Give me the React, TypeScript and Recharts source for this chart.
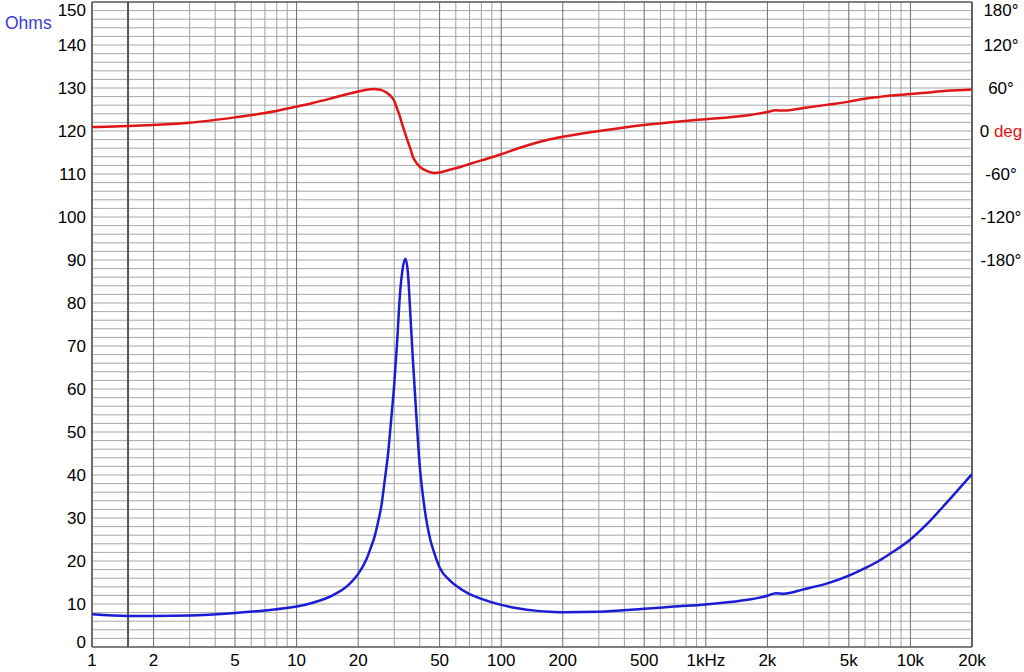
import React from "react";
import { LineChart, Line, XAxis, YAxis, CartesianGrid } from "recharts";

// Frequency (Hz), impedance (Ohms), phase (degrees)
const FREQ = [1, 1.5, 2, 3, 5, 7, 10, 12, 15, 18, 20, 22, 23, 24, 25, 26, 27, 28, 29, 30, 31, 32, 33, 34, 35, 36, 37, 38, 40, 42, 45, 47, 50, 56, 60, 70, 80, 100, 120, 150, 173, 200, 300, 500, 700, 1000, 1500, 2000, 2200, 2400, 3000, 4000, 5000, 6000, 7000, 8000, 10000, 12000, 15000, 20000];
const OHMS = [7.6, 7.2, 7.2, 7.3, 7.9, 8.5, 9.4, 10.3, 12.0, 14.5, 17.0, 20.5, 23, 25.5, 29, 33, 39, 45, 53, 61, 71, 82, 88, 90.3, 87, 77, 67, 58, 42, 33, 25, 22, 18.5, 15.5, 14.3, 12.3, 11.2, 9.8, 9.0, 8.4, 8.2, 8.1, 8.2, 8.9, 9.4, 9.9, 10.8, 11.9, 12.5, 12.4, 13.4, 14.9, 16.6, 18.35, 20.0, 21.75, 25.0, 28.5, 33.5, 40.2];
const PHASE = [5.5, 7, 8.5, 11.5, 19, 25, 34, 39, 46, 52, 55, 57.5, 58.2, 58.5, 58, 57, 55, 52, 48, 42, 31, 20, 7, -4, -15, -25, -36, -42, -50, -54, -57.5, -58.5, -58, -54, -52, -46, -41, -32.5, -24.5, -16, -11.5, -8, 0, 8.5, 12.5, 16.5, 21, 26.5, 29, 28.5, 32, 37, 41, 45, 47.5, 49.5, 51.5, 53.5, 56, 58];

const X_TICKS = [1, 2, 5, 10, 20, 50, 100, 200, 500, 1000, 2000, 5000, 10000, 20000];
const X_LABELS = ["1", "2", "5", "10", "20", "50", "100", "200", "500", "1kHz", "2k", "5k", "10k", "20k"];
const OHM_TICKS = [0, 10, 20, 30, 40, 50, 60, 70, 80, 90, 100, 110, 120, 130, 140, 150];
const DEG_TICKS = [-180, -120, -60, 0, 60, 120, 180];
const DEG_LABELS = ["-180°", "-120°", "-60°", "0 deg", "60°", "120°", "180°"];

const DECADES = [1, 10, 100, 1000, 10000];
const GRID_MAJOR = DECADES.flatMap((d) => [1, 2, 5].map((m) => m * d)).concat([20000]);
const GRID_MINOR = DECADES.flatMap((d) => [3, 4, 6, 7, 8, 9].map((m) => m * d)).filter((v) => v < 20000);
const GRID_H = Array.from({ length: 74 }, (_, i) => (i + 1) * 2);
const MARK_LINE = [1.5];

const data = FREQ.map((f, i) => ({ f, ohm: OHMS[i], deg: PHASE[i] }));

const FONT = "'Liberation Sans', Arial, sans-serif";

const XTick = (props: any) => {
  const { x, y, payload } = props;
  const idx = X_TICKS.indexOf(payload.value);
  return (
    <text x={x} y={y + 7} dy="0.36em" textAnchor="middle" fontSize={17} fontFamily={FONT} fill="#000">
      {idx >= 0 ? X_LABELS[idx] : payload.value}
    </text>
  );
};

const LeftTick = (props: any) => {
  const { x, y, payload } = props;
  const v = payload.value;
  const shift = v === 0 ? -5 : v === 150 ? 8 : 0;
  return (
    <text x={x} y={y + shift} dy="0.36em" textAnchor="end" fontSize={17} fontFamily={FONT} fill="#000">
      {v}
    </text>
  );
};

const RightTick = (props: any) => {
  const { x, y, payload } = props;
  const v = payload.value;
  const idx = DEG_TICKS.indexOf(v);
  const shift = v === 180 ? 8 : 0;
  const label = DEG_LABELS[idx];
  return (
    <text x={x + 23} y={y + shift} dy="0.36em" textAnchor="middle" fontSize={17} fontFamily={FONT} fill="#000">
      {v === 0 ? (
        <>
          <tspan>0 </tspan>
          <tspan fill="#e01515">deg</tspan>
        </>
      ) : (
        label
      )}
    </text>
  );
};

export default function App() {
  return (
    <div style={{ position: "absolute", left: 0, top: 0, width: 1024, height: 672, background: "#fff" }}>
      <div
        style={{
          position: "absolute",
          left: 5,
          top: 13,
          fontFamily: FONT,
          fontSize: 17.5,
          lineHeight: "20px",
          color: "#3b3bd6",
        }}
      >
        Ohms
      </div>
      <LineChart width={1024} height={672} data={data} margin={{ top: 2, right: 0, bottom: 0, left: 0 }}>
        <XAxis
          dataKey="f"
          type="number"
          scale="log"
          domain={[1, 20000]}
          allowDataOverflow
          ticks={X_TICKS}
          interval={0}
          height={25}
          axisLine={false}
          tickLine={false}
          tickSize={6}
          tickMargin={0}
          tick={<XTick />}
        />
        <YAxis
          yAxisId="ohm"
          domain={[0, 150]}
          ticks={OHM_TICKS}
          interval={0}
          width={92}
          axisLine={false}
          tickLine={false}
          tickSize={6}
          tickMargin={0}
          tick={<LeftTick />}
        />
        <YAxis
          yAxisId="deg"
          orientation="right"
          domain={[-720, 180]}
          ticks={DEG_TICKS}
          interval={0}
          width={52}
          axisLine={false}
          tickLine={false}
          tickSize={6}
          tickMargin={0}
          tick={<RightTick />}
        />
        <CartesianGrid yAxisId="ohm" vertical={false} horizontalValues={GRID_H} stroke="#a8a8a8" strokeWidth={1} />
        <CartesianGrid yAxisId="ohm" horizontal={false} verticalValues={GRID_MINOR} stroke="#a0a0a0" strokeWidth={1} />
        <CartesianGrid yAxisId="ohm" horizontal={false} verticalValues={GRID_MAJOR} stroke="#6e6e6e" strokeWidth={1} />
        <CartesianGrid yAxisId="ohm" horizontal={false} verticalValues={MARK_LINE} stroke="#555" strokeWidth={2} />
        <CartesianGrid yAxisId="ohm" vertical={false} horizontalValues={[0, 150]} stroke="#555" strokeWidth={1.5} />
        <CartesianGrid yAxisId="ohm" horizontal={false} verticalValues={[1, 20000]} stroke="#555" strokeWidth={1.5} />
        <Line
          yAxisId="deg"
          dataKey="deg"
          type="monotone"
          stroke="#e01515"
          strokeWidth={2.5}
          dot={false}
          isAnimationActive={false}
        />
        <Line
          yAxisId="ohm"
          dataKey="ohm"
          type="monotone"
          stroke="#1c1cd4"
          strokeWidth={2.5}
          dot={false}
          isAnimationActive={false}
        />
      </LineChart>
    </div>
  );
}
